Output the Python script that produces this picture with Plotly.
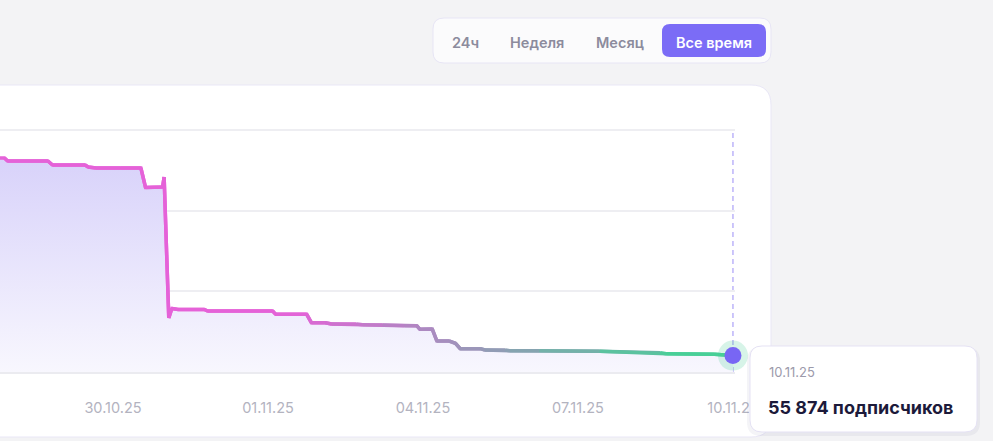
import plotly.graph_objects as go

W, H = 993, 441

# chart data (x: position along the axis, one label step = 100)
x_pos = [-79, -70, -68, -42, -39, -18, -16, -11, 5, 18,
         21, 32, 33, 36, 38, 42, 59, 61, 103, 105,
         125, 128, 137, 141, 157, 161, 174, 188, 196, 198,
         206, 209, 217, 221, 224, 237, 240,
         253, 256, 275, 314, 353, 357, 388, 400]
subscribers = [58323, 58323, 58286, 58286, 58236, 58236, 58211, 58199, 58199, 58199,
               57957, 57963, 58087, 56339, 56457, 56445, 56445, 56426, 56426, 56385,
               56385, 56281, 56281, 56265, 56265, 56256, 56253, 56244, 56244, 56199,
               56203, 56054, 56054, 56026, 55959, 55959, 55943,
               55943, 55934, 55934, 55927, 55909, 55897, 55889, 55874]

tick_vals = [0, 100, 200, 300, 400]
tick_text = ["30.10.25", "01.11.25", "04.11.25", "07.11.25", "10.11.25"]

periods = ["24ч", "Неделя", "Месяц", "Все время"]
tooltip_date = "10.11.25"
tooltip_value = "55 874 подписчиков"

PINK = "#e562d8"
GREEN = "#48cf97"
PURPLE = "#7b6cf6"
FONT = "Inter"

y_base, y_step = 55670, 1000
px_per_unit = 80.67 / y_step
y_pad = 19  # a little headroom so the top grid line is drawn


def mix(c1, c2, t):
    a = [int(c1[i:i + 2], 16) for i in (1, 3, 5)]
    b = [int(c2[i:i + 2], 16) for i in (1, 3, 5)]
    return "#" + "".join(f"{round(p + (q - p) * t):02x}" for p, q in zip(a, b))


def rrect(x0, y0, x1, y1, r):
    # rounded rectangle, pixel coords -> paper path
    def P(x, y):
        return f"{x / W:.5f},{1 - y / H:.5f}"
    return ("M" + P(x0 + r, y0) + " L" + P(x1 - r, y0) + " Q" + P(x1, y0) + " " + P(x1, y0 + r) +
            " L" + P(x1, y1 - r) + " Q" + P(x1, y1) + " " + P(x1 - r, y1) +
            " L" + P(x0 + r, y1) + " Q" + P(x0, y1) + " " + P(x0, y1 - r) +
            " L" + P(x0, y0 + r) + " Q" + P(x0, y0) + " " + P(x0 + r, y0) + " Z")


y_dom = [1 - 372 / H, 1 - (130 - y_pad * px_per_unit) / H]
grid_top = 1 - 130 / H

fig = go.Figure()

# area with vertical gradient
fig.add_trace(go.Scatter(
    x=x_pos, y=subscribers, mode="lines", line=dict(width=0),
    fill="tozeroy",
    fillgradient=dict(type="vertical", colorscale=[[0, "#f8f7fe"], [1, "#d8d2fa"]],
                      start=y_base, stop=max(subscribers)),
    hoverinfo="skip", showlegend=False,
))

# line with horizontal colour gradient, drawn piece by piece
for i in range(len(x_pos) - 1):
    xm = (x_pos[i] + x_pos[i + 1]) / 2
    t = min(max((xm - 110) / 255, 0), 1)
    fig.add_trace(go.Scatter(
        x=x_pos[i:i + 3], y=subscribers[i:i + 3], mode="lines",
        line=dict(color=mix(PINK, GREEN, t), width=3.5),
        hoverinfo="skip", showlegend=False,
    ))

# hovered point
fig.add_trace(go.Scatter(
    x=[x_pos[-1]], y=[subscribers[-1]], mode="markers",
    marker=dict(size=30, color="rgba(72,207,151,0.22)"),
    cliponaxis=False, hoverinfo="skip", showlegend=False,
))
fig.add_trace(go.Scatter(
    x=[x_pos[-1]], y=[subscribers[-1]], mode="markers",
    marker=dict(size=17, color="#7866f4"),
    cliponaxis=False, hoverinfo="skip", showlegend=False,
))

shapes = [
    dict(type="path", path=rrect(-30, 85, 771, 437, 20), xref="paper", yref="paper",
         fillcolor="white", line=dict(color="#e9e7f6", width=1), layer="below"),
    dict(type="line", xref="x", x0=x_pos[-1], x1=x_pos[-1], yref="paper", y0=y_dom[0], y1=grid_top,
         line=dict(color="#bcb3f9", width=1.5, dash="5px,4px"), layer="below"),
    dict(type="path", path=rrect(433, 18, 771, 63, 11), xref="paper", yref="paper",
         fillcolor="#fbfbfc", line=dict(color="#e7e5f5", width=1), layer="above"),
    dict(type="path", path=rrect(662, 24, 766, 57, 8), xref="paper", yref="paper",
         fillcolor=PURPLE, line=dict(width=0), layer="above"),
    dict(type="path", path=rrect(747, 347, 980, 436, 14), xref="paper", yref="paper",
         fillcolor="rgba(40,30,90,0.05)", line=dict(width=0), layer="above"),
    dict(type="path", path=rrect(750, 346, 977, 432, 12), xref="paper", yref="paper",
         fillcolor="white", line=dict(color="#e5e2f4", width=1), layer="above"),
]

annotations = []
for label, cx in zip(periods, [465, 536.5, 619.5, 713.5]):
    active = label == periods[-1]
    annotations.append(dict(
        text=label, xref="paper", yref="paper", x=cx / W, y=1 - 42 / H,
        xanchor="center", yanchor="middle", showarrow=False,
        font=dict(family=FONT, size=14.5, weight=600, color="white" if active else "#8c8b9d"),
    ))
annotations.append(dict(
    text=tooltip_date, xref="paper", yref="paper", x=767 / W, y=1 - 372 / H,
    xanchor="left", yanchor="middle", showarrow=False,
    font=dict(family=FONT, size=13, color="#9c9aab"),
))
annotations.append(dict(
    text=tooltip_value, xref="paper", yref="paper", x=766 / W, y=1 - 407 / H,
    xanchor="left", yanchor="middle", showarrow=False,
    font=dict(family=FONT, size=18, weight=700, color="#1c1a3a"),
))

fig.update_layout(
    width=W, height=H, autosize=False,
    margin=dict(l=0, r=0, t=0, b=0, pad=0, autoexpand=False),
    paper_bgcolor="#f3f3f5", plot_bgcolor="rgba(0,0,0,0)",
    font=dict(family=FONT),
    showlegend=False,
    shapes=shapes, annotations=annotations,
    xaxis=dict(domain=[0, 734.5 / W], range=[-72.9, 401],
               tickvals=tick_vals, ticktext=tick_text, showgrid=False, zeroline=False,
               showline=True, linecolor="#ebebf0", linewidth=1.5,
               ticks="", ticklabelstandoff=22,
               tickfont=dict(family=FONT, size=14.5, color="#b3b3bf")),
    yaxis=dict(domain=y_dom, range=[y_base, y_base + 3 * y_step + y_pad],
               tickvals=[y_base + y_step, y_base + 2 * y_step, y_base + 3 * y_step],
               showticklabels=False, showgrid=True, gridcolor="#eeeef2", gridwidth=1.5,
               zeroline=False, ticks=""),
)

fig.write_html("out.html", config={"displayModeBar": False, "responsive": False},
               post_script="document.body.style.margin='0';document.body.style.overflow='hidden';")
